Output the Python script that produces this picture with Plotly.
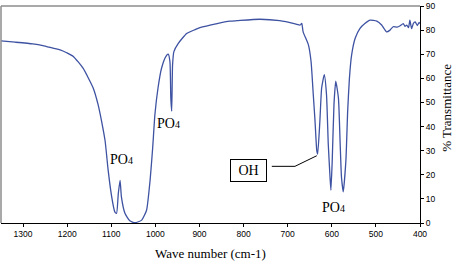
import plotly.graph_objects as go

# Spectrum
wavenumber = [1350, 1318, 1278, 1255, 1232, 1216, 1201, 1186, 1164, 1141, 1130, 1122, 1114,
              1107, 1099, 1092, 1088, 1084, 1080, 1077, 1069, 1058, 1046, 1031, 1020, 1012,
              1006, 1001, 994, 986, 976, 971, 967, 965, 963, 961, 958, 948, 929, 910, 899,
              860, 831, 815, 763, 718, 683, 672, 670, 668, 665, 653, 647, 642, 638, 634, 632,
              627, 623, 617, 612, 608, 604, 602, 599, 595, 591, 585, 581, 578, 574, 568, 564,
              560, 555, 547, 536, 525, 513, 498, 487, 476, 468, 461, 452, 445, 438, 434, 430,
              426, 423, 419, 415, 411, 406, 402, 400]
transmittance = [75.5, 75.0, 74.3, 73.6, 72.5, 71.8, 70.6, 69.1, 64.2, 56.0, 49.2, 42.3, 34.1,
                 21.8, 10.8, 4.6, 4.0, 12.3, 17.7, 10.8, 4.0, 0.9, 0.1, 1.2, 5.3, 17.7,
                 31.4, 45.1, 56.0, 64.2, 69.1, 70.0, 67.0, 51.9, 46.4, 65.6, 71.1, 74.5, 78.6,
                 80.2, 81.0, 82.7, 83.7, 83.9, 84.5, 83.9, 82.6, 82.1, 82.4, 82.8, 79.3, 73.9,
                 67.0, 53.3, 42.3, 30.0, 28.6, 42.3, 56.0, 61.5, 53.3, 32.8, 19.0, 13.6, 25.9,
                 49.2, 58.8, 51.9, 32.8, 19.0, 12.9, 25.9, 46.4, 60.1, 69.7, 76.6, 80.7, 82.7,
                 84.1, 83.7, 82.1, 79.3, 80.0, 81.4, 81.2, 81.8, 82.7, 81.6, 82.1, 81.0, 84.1,
                 80.6, 82.8, 83.4, 81.9, 83.2, 82.7]

x_ticks = [1300, 1200, 1100, 1000, 900, 800, 700, 600, 500, 400]
y_ticks = [0, 10, 20, 30, 40, 50, 60, 70, 80, 90]

# Label anchors (wavenumber, transmittance)
po4_labels = [(971, 41.1), (1076, 26.3), (595, 6.6)]
oh_label = (788, 21.8)
oh_leader_x = [736, 683.5, 634]
oh_leader_y = [23.5, 23.5, 27.9]

serif = "Liberation Serif, Times New Roman, serif"
sans = "Liberation Sans, Arial, sans-serif"

fig = go.Figure()
fig.add_trace(go.Scatter(x=wavenumber, y=transmittance, mode="lines",
                         line=dict(color="rgb(62,82,162)", width=1.3, shape="spline", smoothing=0.5),
                         hoverinfo="skip", showlegend=False))
fig.add_trace(go.Scatter(x=oh_leader_x, y=oh_leader_y, mode="lines",
                         line=dict(color="black", width=1),
                         hoverinfo="skip", showlegend=False))

annotations = []
for (wx, ty) in po4_labels:
    annotations.append(dict(x=wx, y=ty, xref="x", yref="y", showarrow=False,
                            text="PO<span style='font-size:10px'>4</span>",
                            font=dict(family=serif, size=14, color="black")))
annotations.append(dict(x=oh_label[0], y=oh_label[1], xref="x", yref="y", showarrow=False,
                        text="OH", font=dict(family=serif, size=14, color="black"),
                        bordercolor="black", borderwidth=1, borderpad=1,
                        width=33, height=19, bgcolor="white"))
annotations.append(dict(x=0.501, y=-0.142, xref="paper", yref="paper", showarrow=False,
                        text="Wave number (cm-1)", xanchor="center", yanchor="middle",
                        font=dict(family=serif, size=13, color="black")))
annotations.append(dict(x=1.064, y=0.53, xref="paper", yref="paper", showarrow=False,
                        text="% Transmittance", textangle=-90, xanchor="center", yanchor="middle",
                        font=dict(family=serif, size=13, color="black")))

fig.update_layout(
    width=453, height=261,
    margin=dict(l=1, r=33, t=4, b=38),
    paper_bgcolor="white", plot_bgcolor="white",
    annotations=annotations,
    shapes=[
        dict(type="line", xref="paper", yref="paper", x0=0, x1=0, y0=0, y1=1,
             line=dict(color="rgb(140,140,140)", width=1.5)),
        dict(type="line", xref="paper", yref="paper", x0=0, x1=1, y0=1, y1=1,
             line=dict(color="rgb(140,140,140)", width=1.5)),
    ],
    xaxis=dict(range=[1350, 400], tickvals=x_ticks, ticks="outside", ticklen=3,
               tickcolor="black", showline=True, linecolor="black", linewidth=1,
               showgrid=False, zeroline=False,
               tickfont=dict(family=sans, size=8.5, color="black")),
    yaxis=dict(range=[0, 90], tickvals=y_ticks, side="right", ticks="outside", ticklen=3,
               tickcolor="black", showline=True, linecolor="black", linewidth=1,
               showgrid=False, zeroline=False, ticklabeloverflow="allow",
               tickfont=dict(family=sans, size=8.5, color="black")),
)

fig.write_html("out.html", config={"displayModeBar": False},
               post_script="document.body.style.margin='0';")
